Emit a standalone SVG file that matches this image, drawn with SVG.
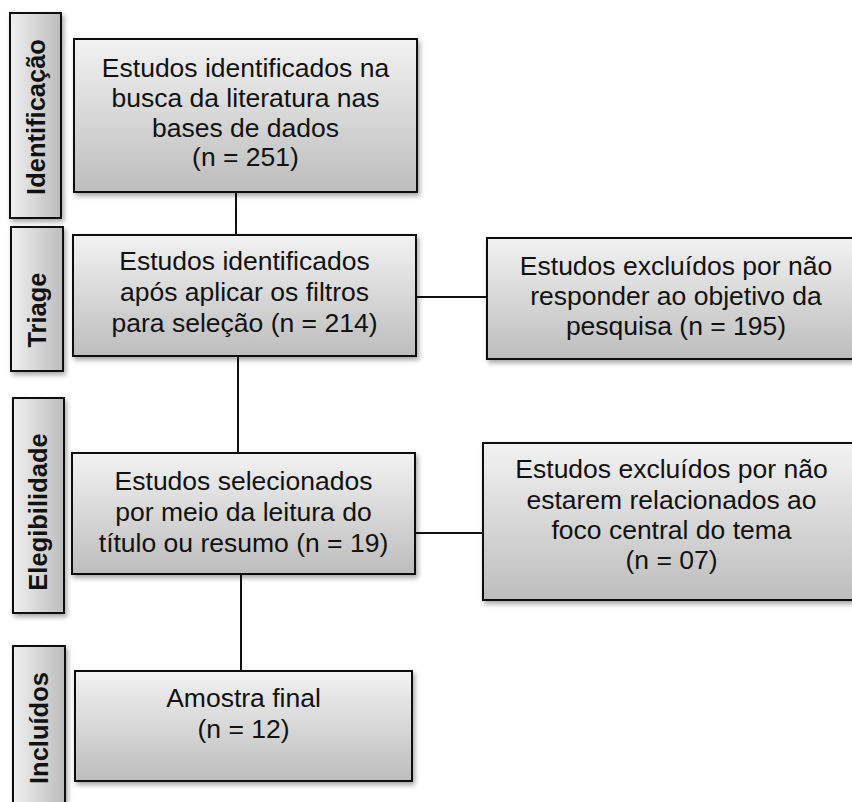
<svg xmlns="http://www.w3.org/2000/svg" width="852" height="802" viewBox="0 0 852 802">
<defs>
<linearGradient id="gv" x1="0" y1="0" x2="0" y2="1">
<stop offset="0" stop-color="#f2f2f2"/>
<stop offset="1" stop-color="#bdbdbd"/>
</linearGradient>
<linearGradient id="gh" x1="0" y1="0" x2="1" y2="0">
<stop offset="0" stop-color="#f0f0f0"/>
<stop offset="1" stop-color="#bcbcbc"/>
</linearGradient>
<filter id="sh" x="-10%" y="-10%" width="130%" height="130%">
<feDropShadow dx="2" dy="3" stdDeviation="2.5" flood-color="#000" flood-opacity="0.35"/>
</filter>
</defs>
<style>
.box{fill:url(#gv);stroke:#111;stroke-width:2;filter:url(#sh)}
.side{fill:url(#gh);stroke:#111;stroke-width:2;filter:url(#sh)}
.t{font-family:"Liberation Sans",Arial,sans-serif;font-size:26.5px;fill:#111;text-anchor:middle}
.s{font-family:"Liberation Sans",Arial,sans-serif;font-size:25.5px;font-weight:bold;fill:#111;text-anchor:middle}
.c{stroke:#111;stroke-width:2;fill:none}
</style>
<rect width="852" height="802" fill="#fff"/>
<g id="connectors">
<line class="c" x1="236" y1="192" x2="236" y2="235"/>
<line class="c" x1="416" y1="297" x2="487" y2="297"/>
<line class="c" x1="238" y1="356" x2="238" y2="453"/>
<line class="c" x1="415" y1="533" x2="483" y2="533"/>
<line class="c" x1="241" y1="574" x2="241" y2="671"/>
</g>
<g id="side-identificacao">
<rect class="side" x="10" y="13" width="51" height="205"/>
<text class="s" transform="translate(45,117) rotate(-90)">Identificação</text>
</g>
<g id="side-triage">
<rect class="side" x="11" y="227" width="52" height="144"/>
<text class="s" transform="translate(46,310) rotate(-90)">Triage</text>
</g>
<g id="side-elegibilidade">
<rect class="side" x="13" y="398" width="51" height="215"/>
<text class="s" transform="translate(47,512) rotate(-90)">Elegibilidade</text>
</g>
<g id="side-incluidos">
<rect class="side" x="13" y="646" width="52" height="170"/>
<text class="s" transform="translate(48,728) rotate(-90)">Incluídos</text>
</g>
<g id="box-identificados">
<rect class="box" x="74" y="39" width="343" height="153"/>
<text class="t" x="245.5" y="77">Estudos identificados na</text>
<text class="t" x="245.5" y="107">busca da literatura nas</text>
<text class="t" x="245.5" y="137">bases de dados</text>
<text class="t" x="245.5" y="166">(n = 251)</text>
</g>
<g id="box-filtros">
<rect class="box" x="73" y="235" width="343" height="121"/>
<text class="t" x="244.5" y="270">Estudos identificados</text>
<text class="t" x="244.5" y="301">após aplicar os filtros</text>
<text class="t" x="244.5" y="332">para seleção (n = 214)</text>
</g>
<g id="box-excluidos-1">
<rect class="box" x="487" y="238" width="378" height="121"/>
<text class="t" x="676" y="275">Estudos excluídos por não</text>
<text class="t" x="676" y="305">responder ao objetivo da</text>
<text class="t" x="676" y="335">pesquisa (n = 195)</text>
</g>
<g id="box-selecionados">
<rect class="box" x="72" y="453" width="343" height="121"/>
<text class="t" x="243.5" y="490">Estudos selecionados</text>
<text class="t" x="243.5" y="521">por meio da leitura do</text>
<text class="t" x="243.5" y="552">título ou resumo (n = 19)</text>
</g>
<g id="box-excluidos-2">
<rect class="box" x="483" y="443" width="378" height="157"/>
<text class="t" x="671.5" y="478">Estudos excluídos por não</text>
<text class="t" x="671.5" y="509">estarem relacionados ao</text>
<text class="t" x="671.5" y="539">foco central do tema</text>
<text class="t" x="671.5" y="569">(n = 07)</text>
</g>
<g id="box-amostra">
<rect class="box" x="75" y="671" width="337" height="110"/>
<text class="t" x="243.5" y="707">Amostra final</text>
<text class="t" x="243.5" y="738">(n = 12)</text>
</g>
</svg>
